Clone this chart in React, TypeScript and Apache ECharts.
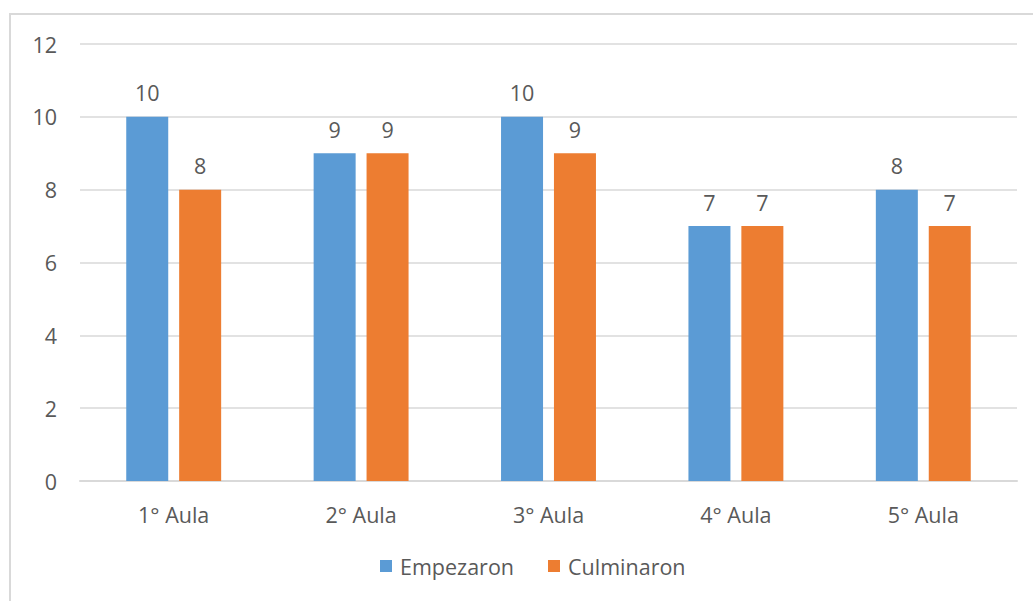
import React, { useEffect, useRef } from "react";
import * as echarts from "echarts";

const categories = ["1° Aula", "2° Aula", "3° Aula", "4° Aula", "5° Aula"];
const empezaron = [10, 9, 10, 7, 8];
const culminaron = [8, 9, 9, 7, 7];
const seriesNames = ["Empezaron", "Culminaron"];

const FONT = "'Open Sans', 'Noto Sans', sans-serif";
const TEXT = "#595959";
const FS = 21.5;

export default function App() {
  const ref = useRef<HTMLDivElement>(null);
  useEffect(() => {
    if (!ref.current) return;
    const chart = echarts.init(ref.current, undefined, { renderer: "svg" });
    const label = {
      show: true,
      position: "top" as const,
      distance: 13,
      color: TEXT,
      fontSize: FS,
      fontFamily: FONT,
    };
    chart.setOption({
      animation: false,
      backgroundColor: "#ffffff",
      graphic: [
        {
          type: "rect",
          shape: { x: 10, y: 14, width: 1040, height: 620 },
          style: { fill: "none", stroke: "#d9d9d9", lineWidth: 2 },
          silent: true,
        },
      ],
      grid: { left: 80, right: 16, top: 44, bottom: 120 },
      legend: {
        bottom: 19,
        left: 375,
        itemWidth: 12,
        itemHeight: 12,
        itemGap: 34,
        icon: "rect",
        textStyle: { color: TEXT, fontSize: FS, fontFamily: FONT, padding: [0, 0, 0, 3] },
        data: seriesNames,
      },
      xAxis: {
        type: "category",
        data: categories,
        axisLine: { lineStyle: { color: "#d9d9d9", width: 2 } },
        axisTick: { show: false },
        axisLabel: { color: TEXT, fontSize: FS, fontFamily: FONT, margin: 22 },
      },
      yAxis: {
        type: "value",
        min: 0,
        max: 12,
        interval: 2,
        axisLine: { show: false },
        axisTick: { show: false },
        splitLine: { lineStyle: { color: "#d9d9d9", width: 1.5 } },
        axisLabel: { color: TEXT, fontSize: FS, fontFamily: FONT, margin: 23 },
      },
      series: [
        {
          name: seriesNames[0],
          type: "bar",
          data: empezaron,
          barWidth: 42,
          barGap: "26%",
          itemStyle: { color: "#5B9BD5" },
          label,
        },
        {
          name: seriesNames[1],
          type: "bar",
          data: culminaron,
          barWidth: 42,
          itemStyle: { color: "#ED7D31" },
          label,
        },
      ],
    });
    return () => chart.dispose();
  }, []);
  return (
    <div
      ref={ref}
      style={{ position: "fixed", left: 0, top: 0, width: 1033, height: 601 }}
    />
  );
}
